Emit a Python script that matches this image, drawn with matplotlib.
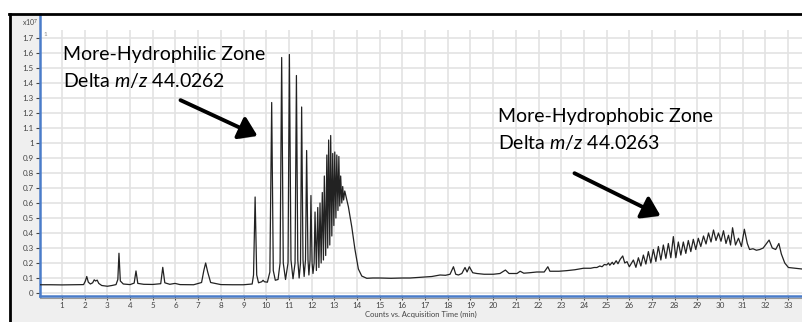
import matplotlib.pyplot as plt
import matplotlib.patheffects as pe
from matplotlib.lines import Line2D
from matplotlib.patches import Rectangle

plt.rcParams['font.family'] = ['Lato', 'DejaVu Sans']
plt.rcParams['mathtext.fontset'] = 'custom'
plt.rcParams['mathtext.rm'] = 'Lato'
plt.rcParams['mathtext.it'] = 'Lato:italic'

# chromatogram trace (time in min, counts in x10^7)
t_early = [0.03, 0.5, 1.0, 1.5, 1.95, 2.03, 2.09, 2.16, 2.25, 2.35, 2.42, 2.48, 2.55, 2.62,
           2.75, 3.0, 3.2, 3.38, 3.46, 3.51, 3.57, 3.7, 4.0, 4.18, 4.26, 4.34, 4.6, 5.0,
           5.35, 5.44, 5.53, 5.75, 5.98, 6.2, 6.8, 7.15, 7.25, 7.33, 7.42, 7.55, 8.0,
           8.5, 9.0, 9.38]
v_early = [0.055, 0.055, 0.054, 0.055, 0.056, 0.08, 0.11, 0.072, 0.06, 0.068, 0.088, 0.08,
           0.086, 0.064, 0.05, 0.045, 0.05, 0.056, 0.09, 0.265, 0.08, 0.06, 0.056, 0.066,
           0.147, 0.064, 0.058, 0.057, 0.062, 0.171, 0.068, 0.058, 0.064, 0.056, 0.055,
           0.07, 0.15, 0.20, 0.14, 0.07, 0.056, 0.055, 0.055, 0.06]

t_hydrophilic = [9.44, 9.51, 9.58, 9.66, 9.8, 9.86, 9.92, 10.05, 10.16, 10.24, 10.31, 10.4,
                 10.52, 10.61, 10.68, 10.75, 10.85, 10.96, 11.02, 11.09, 11.18, 11.27,
                 11.33, 11.39, 11.45, 11.51, 11.56, 11.62, 11.67, 11.73, 11.78, 11.84,
                 11.88, 11.93, 11.97, 12.02, 12.06, 12.11, 12.15, 12.21, 12.27, 12.32,
                 12.37, 12.42, 12.47, 12.52, 12.56, 12.62, 12.67, 12.71, 12.75, 12.8,
                 12.84, 12.89, 12.93, 12.98, 13.02, 13.07, 13.11, 13.16, 13.2, 13.24,
                 13.28, 13.33, 13.37, 13.41, 13.46, 13.52, 13.62, 13.77, 13.91, 14.06,
                 14.21, 14.43, 14.7]
v_hydrophilic = [0.12, 0.64, 0.12, 0.068, 0.075, 0.085, 0.075, 0.072, 0.14, 1.27, 0.15, 0.085,
                 0.09, 0.2, 1.57, 0.2, 0.09, 0.2, 1.59, 0.22, 0.095, 0.2,
                 1.45, 0.22, 0.1, 0.2, 1.24, 0.22, 0.11, 0.22, 0.95, 0.22,
                 0.12, 0.22, 0.65, 0.2, 0.13, 0.2, 0.54, 0.15, 0.57, 0.17,
                 0.60, 0.2, 0.67, 0.22, 0.78, 0.25, 0.92, 0.3, 1.02, 0.32,
                 1.05, 0.38, 0.93, 0.45, 0.94, 0.5, 0.92, 0.55, 0.91, 0.58,
                 0.78, 0.6, 0.71, 0.62, 0.68, 0.64, 0.575, 0.44, 0.29, 0.16,
                 0.113, 0.098, 0.1]

t_middle = [15.0, 15.5, 16.0, 16.34, 16.8, 17.3, 17.66, 17.9, 18.1, 18.25, 18.35, 18.47,
            18.62, 18.76, 18.85, 18.95, 19.1, 19.28, 19.6, 20.01, 20.3, 20.54, 20.7,
            20.89, 21.05, 21.19, 21.35, 21.6, 21.92, 22.25, 22.41, 22.5, 22.9, 23.24,
            23.6, 23.98, 24.3, 24.45, 24.57, 24.7, 24.8, 24.9]
v_middle = [0.10, 0.098, 0.1, 0.10, 0.105, 0.11, 0.12, 0.118, 0.125, 0.175, 0.125, 0.12,
            0.13, 0.17, 0.14, 0.175, 0.135, 0.13, 0.125, 0.125, 0.13, 0.153, 0.13,
            0.13, 0.13, 0.145, 0.132, 0.135, 0.14, 0.14, 0.175, 0.145, 0.145, 0.149,
            0.155, 0.165, 0.165, 0.17, 0.17, 0.18, 0.175, 0.19]

t_hydrophobic = [25.0, 25.08, 25.14, 25.25, 25.31, 25.42, 25.5, 25.6, 25.71, 25.8, 25.9,
                 26.0, 26.18, 26.29, 26.40, 26.51, 26.62, 26.73, 26.84, 26.95, 27.06,
                 27.17, 27.28, 27.39, 27.50, 27.61, 27.72, 27.83, 27.94, 28.05, 28.16,
                 28.27, 28.38, 28.49, 28.60, 28.71, 28.82, 28.93, 29.04, 29.15, 29.27,
                 29.38, 29.49, 29.60, 29.71, 29.82, 29.93, 30.04, 30.15, 30.26, 30.37,
                 30.46, 30.55, 30.68, 30.81, 30.94, 31.07, 31.2, 31.3, 31.45, 31.6,
                 31.75, 31.9, 32.05, 32.16, 32.3, 32.45, 32.59, 32.7, 32.85, 33.01,
                 33.3, 33.61]
v_hydrophobic = [0.187, 0.2, 0.185, 0.205, 0.19, 0.215, 0.195, 0.225, 0.247, 0.2, 0.209,
                 0.175, 0.22, 0.171, 0.235, 0.18, 0.253, 0.193, 0.276, 0.2, 0.29,
                 0.21, 0.31, 0.22, 0.32, 0.231, 0.33, 0.235, 0.376, 0.235, 0.34,
                 0.253, 0.34, 0.264, 0.35, 0.276, 0.358, 0.29, 0.365, 0.31, 0.38,
                 0.327, 0.40, 0.34, 0.42, 0.35, 0.40, 0.345, 0.415, 0.33, 0.385,
                 0.32, 0.435, 0.32, 0.365, 0.31, 0.425, 0.33, 0.29, 0.295, 0.285,
                 0.29, 0.30, 0.33, 0.353, 0.30, 0.29, 0.33, 0.26, 0.20, 0.17,
                 0.165, 0.16]

times = t_early + t_hydrophilic + t_middle + t_hydrophobic
counts = v_early + v_hydrophilic + v_middle + v_hydrophobic

x_ticks = list(range(1, 34))
y_ticks = [i / 10 for i in range(18)]

W, H = 802, 322


def fx(px):
    return px / W


def fy(py):
    return 1 - py / H


fig = plt.figure(figsize=(8.02, 3.22), dpi=100)
fig.patch.set_facecolor('white')

# grey panel and black frame of the screenshot
fig.add_artist(Rectangle((fx(10.5), 0), 1, fy(14), transform=fig.transFigure,
                         facecolor='#efefef', edgecolor='none', zorder=0))
fig.add_artist(Line2D([fx(9), 1], [fy(13.5), fy(13.5)], color='black', lw=2))
fig.add_artist(Line2D([fx(10), fx(10)], [0, fy(13.5)], color='black', lw=2))

ax = fig.add_axes([fx(40), fy(296), fx(802) - fx(40), fy(14) - fy(296)])
ax.set_facecolor('white')

ax.plot(times, counts, color='#222222', lw=0.9, zorder=3)

ax.set_xlim(0.03, 33.61)
ax.set_ylim(-0.02, 1.86)

# grid
for y in y_ticks:
    ax.axhline(y, color='#e3e3e3', lw=1.2, zorder=1)
ax.vlines(x_ticks, -0.02, 1.753, color='#e3e3e3', lw=1.2, zorder=1)

ax.set_xticks(x_ticks)
ax.set_xticklabels([str(x) for x in x_ticks])
ax.set_yticks(y_ticks)
ax.set_yticklabels(['%g' % y for y in y_ticks])
ax.tick_params(axis='both', labelsize=5.8, colors='#444444', length=3, width=0.8, pad=1.5)

for side in ['top', 'right']:
    ax.spines[side].set_visible(False)
ax.spines['left'].set_color('#4a7cc9')
ax.spines['left'].set_linewidth(1.8)
ax.spines['bottom'].set_color('#4a7cc9')
ax.spines['bottom'].set_linewidth(1.8)
fig.add_artist(Line2D([fx(40), 1], [fy(297.8), fy(297.8)], color='#9a9a9a', lw=0.8))

ax.set_xlabel('Counts vs. Acquisition Time (min)', fontsize=5.5, color='#444444', labelpad=1)

fig.text(fx(22), fy(22), 'x10$^7$', fontsize=5, color='#444444', va='center')
fig.text(fx(43), fy(34), '1', fontsize=4.5, color='#888888', va='center')

# annotations
fig.text(fx(63), fy(60), 'More-Hydrophilic Zone', fontsize=14, va='baseline')
fig.text(fx(63), fy(87), 'Delta $m/z$ 44.0262', fontsize=14, va='baseline')
fig.text(fx(498), fy(122), 'More-Hydrophobic Zone', fontsize=14, va='baseline')
fig.text(fx(498), fy(149), 'Delta $m/z$ 44.0263', fontsize=14, va='baseline')

shadow = [pe.SimplePatchShadow(offset=(1.5, -1.5), shadow_rgbFace='#888888', alpha=0.6), pe.Normal()]
for tail, head in [((178, 99), (260, 137)), ((572, 172), (663, 217))]:
    ax.annotate('', xy=(fx(head[0]), fy(head[1])), xycoords='figure fraction',
                xytext=(fx(tail[0]), fy(tail[1])), textcoords='figure fraction',
                arrowprops=dict(arrowstyle='-|>,head_length=0.6,head_width=0.4',
                                color='black', lw=2.8, mutation_scale=18,
                                path_effects=shadow),
                annotation_clip=False)

plt.savefig('out.png', dpi=100)
